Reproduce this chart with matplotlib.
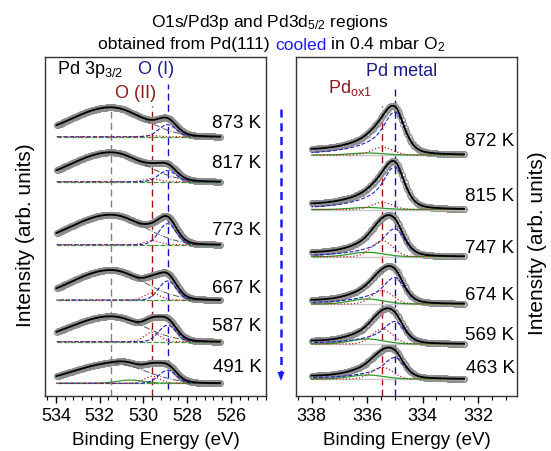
import numpy as np
import matplotlib
matplotlib.use('Agg')
import matplotlib.pyplot as plt
from matplotlib.ticker import MultipleLocator

plt.rcParams['font.family'] = ['Liberation Sans', 'DejaVu Sans']
plt.rcParams['mathtext.fontset'] = 'custom'
plt.rcParams['mathtext.rm'] = 'Liberation Sans'
plt.rcParams['mathtext.it'] = 'Liberation Sans:italic'
plt.rcParams['mathtext.bf'] = 'Liberation Sans:bold'

# O1s / Pd3p region: fitted component heights
temps_o1s = ['873 K', '817 K', '773 K', '667 K', '587 K', '491 K']
pd3p_pos = [531.5, 531.5, 531.5, 531.5, 531.5, 531.4]
pd3p_amp = [29.4, 29.4, 30.0, 30.0, 25.4, 20.0]
o1_amp = [12.0, 11.0, 21.0, 19.0, 16.5, 13.0]
o2_amp = [1.0, 3.0, 4.0, 7.0, 9.4, 7.0]
o3_amp = [0.0, 0.0, 0.0, 0.0, 0.0, 3.3]

# Pd3d5/2 region
temps_pd3d = ['872 K', '815 K', '747 K', '674 K', '569 K', '463 K']
metal_amp = [43.0, 42.7, 28.0, 26.5, 22.5, 21.4]
ox1_amp = [7.7, 7.0, 16.0, 13.3, 15.0, 11.7]
ox2_amp = [2.0, 2.0, 4.4, 5.0, 5.0, 4.0]
bg_step = [3.5, 3.5, 3.0, 2.5, 2.0, 2.0]

# peak positions (eV)
E_O1, E_O2, E_O3 = 528.9, 529.6, 530.6
E_MET, E_OX1, E_OX2 = 335.0, 335.45, 336.0

# stacking (layout)
off_l = [259.3, 214.3, 151.3, 96.0, 54.3, 12.7]
lab_l = [273.7, 233.7, 166.3, 108.7, 70.3, 29.7]
off_r = [241.0, 186.5, 139.3, 92.0, 52.0, 17.0]
lab_r = [255.3, 200.3, 148.7, 102.0, 61.0, 28.7]


def gauss(x, c, s):
    return np.exp(-(x - c) ** 2 / (2 * s ** 2))


def lor(x, c, g):
    return 1.0 / (1 + ((x - c) / g) ** 2)


def pd3p(x, c, a):
    s = np.where(x > c, 1.8, 1.5)
    return a * np.exp(-(x - c) ** 2 / (2 * s ** 2))


def metal(x, a):
    hi = 0.6 * lor(x, E_MET, 1.0) + 0.4 * gauss(x, E_MET, 0.3)
    lo = 0.5 * gauss(x, E_MET, 0.357) + 0.5 * lor(x, E_MET, 0.42)
    return a * np.where(x > E_MET, hi, lo)


fig = plt.figure(figsize=(5.51, 4.52), dpi=100)
W, H = 551.0, 452.0
ax1 = fig.add_axes([45 / W, 55 / H, 221 / W, 339 / H])
ax2 = fig.add_axes([296 / W, 55 / H, 221 / W, 339 / H])

data_kw = dict(ls='none', marker='o', ms=4.2, mfc='none', mec='#8c8c8c', mew=0.8)
navy = '#1c1c8c'
dred = '#8c1c1c'
fs = 13.5

# ---- left panel
x = np.arange(526.5, 534.001, 0.045)
for i in range(6):
    o = off_l[i]
    p = pd3p(x, pd3p_pos[i], pd3p_amp[i])
    c1 = o1_amp[i] * gauss(x, E_O1, 0.4)
    c2 = o2_amp[i] * gauss(x, E_O2, 0.35)
    c3 = o3_amp[i] * gauss(x, E_O3, 0.6)
    env = p + c1 + c2 + c3
    ax1.plot(x, env + o, **data_kw, zorder=2)
    ax1.plot(x, o + np.zeros_like(x), color='#3a9a3a', lw=0.9, ls=(0, (4, 1.5)), zorder=3)
    if o3_amp[i] > 0:
        ax1.plot(x, c3 + o, color='#3a9a3a', lw=0.9, zorder=3)
    ax1.plot(x, p + o, color='#555555', lw=0.7, ls='-.', zorder=3)
    ax1.plot(x, c1 + o, color='#2020c0', lw=0.8, ls='--', zorder=3)
    ax1.plot(x, c2 + o, color='#c02020', lw=0.9, ls=':', zorder=3)
    ax1.plot(x, env + o, color='black', lw=1.3, zorder=4)
    ax1.text(524.6, lab_l[i], temps_o1s[i], ha='right', va='center', fontsize=fs)

ax1.plot([531.5, 531.5], [0, 287], color='#808080', lw=1.0, ls=(0, (5, 3)), zorder=1)
ax1.plot([E_O2, E_O2], [0, 290], color='#a01010', lw=1.0, ls=(0, (5, 3)), zorder=1)
ax1.plot([E_O1, E_O1], [7, 312], color='#1010c0', lw=1.0, ls=(0, (5, 3)), zorder=1)
ax1.text(533.95, 327, 'Pd 3p$_{3/2}$', ha='left', va='center', fontsize=13)
ax1.text(529.42, 327, 'O (I)', ha='center', va='center', fontsize=13, color=navy)
ax1.text(530.38, 304, 'O (II)', ha='center', va='center', fontsize=13, color=dred)

ax1.set_xlim(534.5, 524.4)
ax1.xaxis.set_major_locator(MultipleLocator(2))
ax1.xaxis.set_minor_locator(MultipleLocator(0.4))

# ---- right panel
x = np.arange(332.5, 338.001, 0.05)
for i in range(6):
    o = off_r[i]
    m = metal(x, metal_amp[i])
    c1 = ox1_amp[i] * gauss(x, E_OX1, 0.38)
    c2 = ox2_amp[i] * gauss(x, E_OX2, 0.6)
    bg = bg_step[i] / (1 + np.exp(-(x - 335.1) / 0.25))
    env = m + c1 + c2 + bg
    ax2.plot(x, env + o, **data_kw, zorder=2)
    ax2.plot(x, o + np.zeros_like(x), color='#c8c8c8', lw=1.0, zorder=3)
    ax2.plot(x, c2 + o, color='#2a9a2a', lw=0.9, zorder=3)
    ax2.plot(x, m + o, color='#2020c0', lw=0.8, ls='--', zorder=3)
    ax2.plot(x, c1 + o, color='#c02020', lw=0.9, ls=':', zorder=3)
    ax2.plot(x, env + o, color='black', lw=1.3, zorder=4)
    ax2.text(330.69, lab_r[i], temps_pd3d[i], ha='right', va='center', fontsize=fs)

ax2.plot([E_OX1, E_OX1], [0, 290], color='#a01010', lw=1.0, ls=(0, (5, 3)), zorder=1)
ax2.plot([E_MET, E_MET], [0, 309], color='#1010c0', lw=1.0, ls=(0, (5, 3)), zorder=1)
ax2.text(334.77, 326, 'Pd metal', ha='center', va='center', fontsize=13, color=navy)
ax2.text(336.62, 309, 'Pd$_{\\mathrm{ox1}}$', ha='center', va='center', fontsize=13, color=dred)

ax2.set_xlim(338.56, 330.6)
ax2.xaxis.set_major_locator(MultipleLocator(2))
ax2.xaxis.set_minor_locator(MultipleLocator(0.5))

for ax in (ax1, ax2):
    ax.set_ylim(0, 339)
    ax.set_yticks([])
    ax.tick_params(axis='x', which='major', direction='out', length=5, width=1, labelsize=13, pad=3)
    ax.tick_params(axis='x', which='minor', direction='out', length=3, width=0.8)
    for s in ax.spines.values():
        s.set_color('#333333')
        s.set_linewidth(1.0)
    ax.set_xlabel('Binding Energy (eV)', fontsize=fs)
    ax.xaxis.set_label_coords(0.5, -0.104)
    ax.set_ylabel('Intensity (arb. units)', fontsize=15)

ax1.yaxis.set_label_coords(-0.045, 0.478)
ax2.yaxis.set_label_position('right')
ax2.yaxis.set_label_coords(1.05, 0.455)

# cooling arrow between panels
fig.add_artist(plt.Line2D([281 / W, 281 / W], [1 - 110 / H, 1 - 374 / H], transform=fig.transFigure,
                          color='#1a1aff', lw=1.8, ls=(0, (3.2, 2.3))))
fig.add_artist(plt.Polygon([[277.5 / W, 1 - 373 / H], [284.5 / W, 1 - 373 / H], [281 / W, 1 - 382 / H]],
                           closed=True, transform=fig.transFigure, color='#1a1aff', lw=0))

# title
fig.text(270 / W, 1 - 22 / H, 'O1s/Pd3p and Pd3d$_{5/2}$ regions', ha='center', va='center', fontsize=12.5)
parts = [('obtained from Pd(111) ', 'black'), ('cooled', '#1a1aff'), (' in 0.4 mbar O$_2$', 'black')]
r = fig.canvas.get_renderer()
texts = [fig.text(0, 1 - 45 / H, s, ha='left', va='center', fontsize=12.6, color=c) for s, c in parts]
widths = [t.get_window_extent(renderer=r).width for t in texts]
x0 = 272 - sum(widths) / 2
for t, w in zip(texts, widths):
    t.set_x(x0 / W)
    x0 += w

fig.savefig('out.png', dpi=100)
